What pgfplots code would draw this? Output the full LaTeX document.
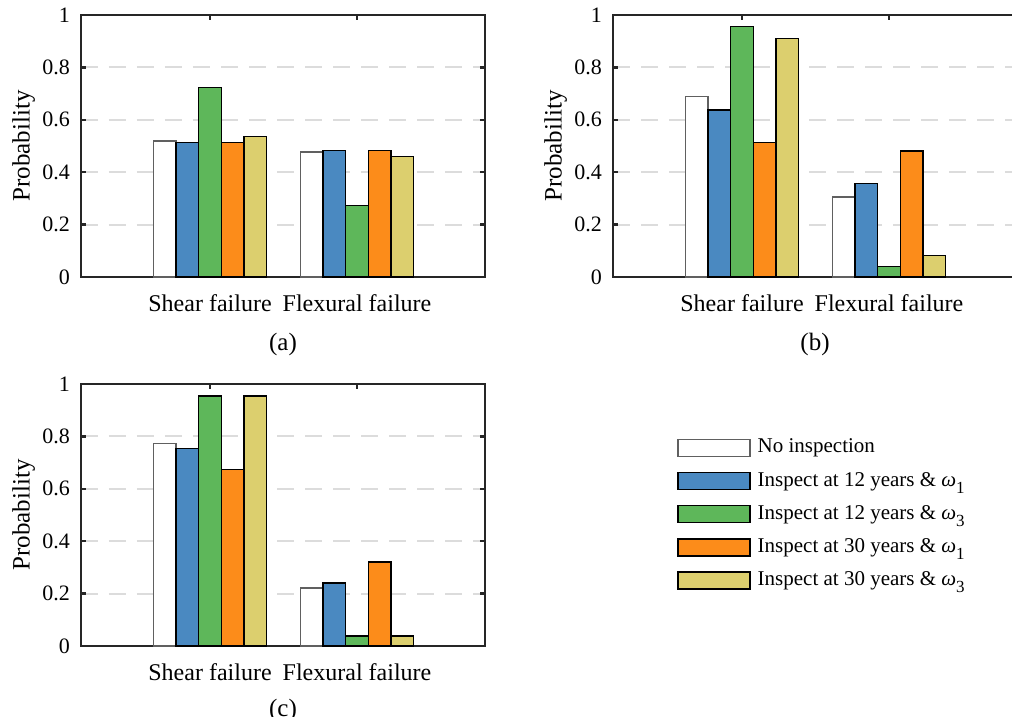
\documentclass[border=0pt]{standalone}
\usepackage{pgfplots}
\pgfplotsset{compat=1.18}
\usepackage{fontspec}
\setmainfont{Liberation Serif}
\definecolor{axc}{HTML}{262626}
\definecolor{cblue}{HTML}{4A89C1}
\definecolor{cgreen}{HTML}{5EB75A}
\definecolor{corange}{HTML}{FC8C1A}
\definecolor{cyellow}{HTML}{DCCF6E}
\definecolor{cgrid}{HTML}{DCDCDC}
\newcommand{\om}[1]{{\itshape ω}\raisebox{-0.75ex}{\fontsize{8.5}{9}\selectfont #1}}
\pgfplotsset{
  myax/.style={
    scale only axis, width=202pt, height=131pt,
    anchor=south west,
    ybar, 
    xmin=0.122, xmax=2.871, ymin=0, ymax=1,
    xtick={1,2}, xticklabels={Shear failure, Flexural failure},
    ytick={0,0.2,0.4,0.6,0.8,1},
    yticklabels={0,0.2,0.4,0.6,0.8,1},
    tick align=inside,
    major tick length=2.5pt,
    axis line style={line width=1.4pt, color=axc},
    every tick/.style={line width=1.2pt, color=axc},
    ymajorgrids,
    major grid style={line width=1pt, color=cgrid, dash pattern=on 8.5pt off 5.5pt},
    /pgf/number format/assume math mode=true,
    yticklabel style={font=\fontsize{11}{13}\selectfont, xshift=-2pt},
    xticklabel style={font=\fontsize{12}{14}\selectfont, anchor=base, yshift=-17pt},
    ylabel={Probability},
    ylabel style={font=\fontsize{12.5}{15}\selectfont, at={(axis description cs:-0.142,0.5)}, anchor=center},
    xlabel style={font=\fontsize{12.5}{15}\selectfont, at={(axis description cs:0.5,0)}, anchor=center, yshift=-33.5pt},
    bar width=0.1537,
  },
  b1/.style={fill=white, draw=gray!75!black, line width=0.7pt, bar shift=-0.3074},
  b2/.style={fill=cblue, draw=black, line width=0.7pt, bar shift=-0.1537},
  b3/.style={fill=cgreen, draw=black, line width=0.7pt, bar shift=0},
  b4/.style={fill=corange, draw=black, line width=0.7pt, bar shift=0.1537},
  b5/.style={fill=cyellow, draw=black, line width=0.7pt, bar shift=0.3074},
  leg/.style={legend image code/.code={\draw[##1] (0pt,-4.25pt) rectangle (36pt,4.25pt);}},
}
\begin{document}
\begin{tikzpicture}
% (a)
\begin{axis}[myax, at={(40.5pt,-138.5pt)}, xlabel={(a)}]
\addplot[b1] coordinates {(1,0.519) (2,0.477)};
\addplot[b2] coordinates {(1,0.513) (2,0.483)};
\addplot[b3] coordinates {(1,0.724) (2,0.272)};
\addplot[b4] coordinates {(1,0.513) (2,0.483)};
\addplot[b5] coordinates {(1,0.536) (2,0.459)};
\end{axis}
% (b)
\begin{axis}[myax, at={(306.5pt,-138.5pt)}, xlabel={(b)}]
\addplot[b1] coordinates {(1,0.688) (2,0.306)};
\addplot[b2] coordinates {(1,0.637) (2,0.357)};
\addplot[b3] coordinates {(1,0.955) (2,0.039)};
\addplot[b4] coordinates {(1,0.513) (2,0.481)};
\addplot[b5] coordinates {(1,0.911) (2,0.083)};
\end{axis}
% (c)
\begin{axis}[myax, at={(40.5pt,-323pt)}, xlabel={(c)},
  xlabel style={yshift=1.5pt},
  legend style={at={(axis description cs:1.475,0.80)}, anchor=north west, draw=none, fill=none,
    inner sep=0pt, font=\fontsize{10.5}{12}\selectfont, row sep=5.6pt,
    /tikz/every odd column/.append style={column sep=3.5pt},
    nodes={inner xsep=0pt, inner ysep=0pt, text height=8pt, text depth=3pt}},
  legend cell align=left]
\addplot[b1,leg] coordinates {(1,0.773) (2,0.221)};
\addplot[b2,leg] coordinates {(1,0.754) (2,0.240)};
\addplot[b3,leg] coordinates {(1,0.954) (2,0.038)};
\addplot[b4,leg] coordinates {(1,0.673) (2,0.320)};
\addplot[b5,leg] coordinates {(1,0.954) (2,0.038)};
\legend{No inspection, Inspect at 12 years \& \om{1}, Inspect at 12 years \& \om{3}, Inspect at 30 years \& \om{1}, Inspect at 30 years \& \om{3}}
\end{axis}
\pgfresetboundingbox
\path (0pt,0pt) rectangle (506pt,-358.5pt);
\end{tikzpicture}
\end{document}
